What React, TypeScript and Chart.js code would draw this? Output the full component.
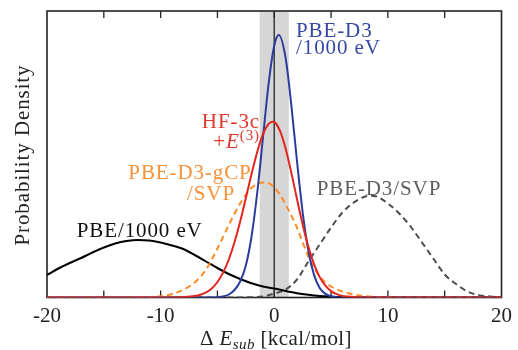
import React, { useEffect, useRef } from 'react';
import { Chart, registerables } from 'chart.js';

Chart.register(...registerables);

// ---- axis / reference data ----
const xMin = -20;
const xMax = 20;
const yMax = 0.2865;
const tickValues = [-20, -15, -10, -5, 0, 5, 10, 15, 20];
const labeledTicks = [-20, -10, 0, 10, 20];
const bandRange = [-1.28, 1.28];
const refLine = 0;

// ---- series (x in kcal/mol, y = density, arbitrary units) ----
const redX = [-20, -10, -9, -8, -7, -6.5, -6, -5.5, -5, -4.5, -4, -3.5, -3, -2.5, -2, -1.5, -1, -0.5, -0.15, 0, 0.5, 1, 1.5, 2, 2.5, 3, 3.5, 4, 4.5, 5, 5.5, 6, 6.5, 7, 8, 9, 20];
const redY = [0, 0, 0.0001, 0.0004, 0.0014, 0.0027, 0.0051, 0.0091, 0.0155, 0.0249, 0.038, 0.0552, 0.076, 0.0994, 0.1234, 0.1456, 0.1632, 0.1736, 0.1758, 0.1755, 0.1668, 0.149, 0.125, 0.0986, 0.073, 0.0509, 0.0333, 0.0204, 0.0118, 0.0064, 0.0033, 0.0016, 0.0009, 0.0005, 0.0001, 0, 0];

const blueX = [-20, -6, -5, -4.5, -4, -3.5, -3, -2.5, -2, -1.5, -1, -0.5, 0, 0.4, 1, 1.5, 2, 2.5, 3, 3.5, 4, 4.5, 5, 5.5, 6.5, 20];
const blueY = [0, 0, 0.0003, 0.001, 0.003, 0.0075, 0.016, 0.032, 0.061, 0.1045, 0.159, 0.2135, 0.252, 0.2625, 0.2395, 0.1927, 0.1366, 0.0852, 0.0468, 0.0226, 0.0096, 0.0036, 0.0012, 0.0003, 0, 0];

const orangeX = [-20, -14, -12, -11, -10, -9, -8, -7, -6, -5, -4, -3, -2, -1, -0.5, 0, 0.5, 1, 1.5, 2, 2.5, 3, 3.5, 4, 4.5, 5, 6, 7, 8, 9, 10, 12, 20];
const orangeY = [0, 0, 0.0002, 0.0005, 0.0012, 0.0035, 0.0078, 0.015, 0.028, 0.049, 0.0725, 0.094, 0.1095, 0.115, 0.1145, 0.11, 0.103, 0.093, 0.082, 0.07, 0.055, 0.041, 0.03, 0.021, 0.015, 0.011, 0.006, 0.003, 0.0013, 0.0005, 0.0002, 0, 0];

const blackX = [-20, -19, -18, -17, -16, -15, -14, -13, -12, -11, -10, -9, -8, -7, -6, -5, -4, -3, -2, -1, 0, 1, 2, 3, 4, 5, 6, 8, 10, 20];
const blackY = [0.0225, 0.029, 0.0345, 0.0395, 0.045, 0.05, 0.054, 0.0565, 0.0575, 0.057, 0.055, 0.052, 0.0485, 0.0425, 0.036, 0.0295, 0.0235, 0.0185, 0.0142, 0.011, 0.009, 0.0065, 0.0043, 0.0027, 0.0015, 0.0008, 0.0004, 0.0001, 0, 0];

const grayX = [-20, -4, -2, -1, 0, 1, 2, 3, 4, 5, 6, 7, 8, 8.5, 9, 10, 11, 12, 13, 14, 15, 16, 17, 18, 19, 20];
const grayY = [0, 0, 0.0003, 0.001, 0.004, 0.008, 0.018, 0.036, 0.053, 0.07, 0.085, 0.095, 0.101, 0.1017, 0.101, 0.094, 0.084, 0.071, 0.055, 0.039, 0.023, 0.0135, 0.006, 0.0023, 0.001, 0.0004];

const seriesNames = ['HF-3c +E(3)', 'PBE-D3/1000 eV', 'PBE-D3-gCP/SVP', 'PBE/1000 eV', 'PBE-D3/SVP'];

const FONT = "'Liberation Serif', 'Times New Roman', serif";

type Part = { t: string; size?: number; italic?: boolean; dy?: number };

function partsWidth(ctx: CanvasRenderingContext2D, parts: Part[]) {
  let w = 0;
  for (const p of parts) {
    ctx.font = `${p.italic ? 'italic ' : ''}${p.size || 21}px ${FONT}`;
    w += ctx.measureText(p.t).width;
  }
  return w;
}

function drawParts(ctx: CanvasRenderingContext2D, parts: Part[], x: number, y: number) {
  let cx = x;
  for (const p of parts) {
    ctx.font = `${p.italic ? 'italic ' : ''}${p.size || 21}px ${FONT}`;
    ctx.fillText(p.t, cx, y + (p.dy || 0));
    cx += ctx.measureText(p.t).width;
  }
}

const decorPlugin = {
  id: 'decor',
  beforeDatasetsDraw(chart: any) {
    const { ctx, chartArea: a, scales } = chart;
    const x = scales.x;
    ctx.save();
    const b0 = x.getPixelForValue(bandRange[0]);
    const b1 = x.getPixelForValue(bandRange[1]);
    ctx.fillStyle = '#d6d6d6';
    ctx.fillRect(b0, a.top, b1 - b0, a.bottom - a.top);
    const z = x.getPixelForValue(refLine);
    ctx.strokeStyle = '#3c3c3c';
    ctx.lineWidth = 1.5;
    ctx.beginPath();
    ctx.moveTo(z, a.top);
    ctx.lineTo(z, a.bottom);
    ctx.stroke();
    ctx.strokeStyle = '#222';
    ctx.lineWidth = 1.3;
    for (const t of tickValues) {
      if (t === xMin || t === xMax) continue;
      const p = x.getPixelForValue(t);
      ctx.beginPath();
      ctx.moveTo(p, a.top);
      ctx.lineTo(p, a.top + 7);
      ctx.moveTo(p, a.bottom);
      ctx.lineTo(p, a.bottom - 7);
      ctx.stroke();
    }
    ctx.lineWidth = 1.6;
    ctx.strokeRect(a.left, a.top, a.right - a.left, a.bottom - a.top);
    ctx.restore();
  },
  afterDraw(chart: any) {
    const { ctx } = chart;
    ctx.save();
    (ctx as any).letterSpacing = '0.9px';
    ctx.textBaseline = 'alphabetic';
    ctx.textAlign = 'left';

    // blue label
    ctx.fillStyle = '#3647a6';
    drawParts(ctx, [{ t: 'PBE-D3' }], 296, 36.5);
    drawParts(ctx, [{ t: '/1000 eV' }], 296, 54);

    // red label (right-aligned at 260)
    ctx.fillStyle = '#e2372c';
    const r1: Part[] = [{ t: 'HF-3c' }];
    drawParts(ctx, r1, 260 - partsWidth(ctx, r1), 128.3);
    const r2: Part[] = [{ t: '+' }, { t: 'E', italic: true }, { t: '(3)', size: 15, dy: -8 }];
    drawParts(ctx, r2, 260 - partsWidth(ctx, r2), 148.3);

    // orange label
    ctx.fillStyle = '#f7913a';
    drawParts(ctx, [{ t: 'PBE-D3-gCP' }], 128.3, 178.5);
    drawParts(ctx, [{ t: '/SVP' }], 187, 199.5);

    // gray label
    ctx.fillStyle = '#5e5e5e';
    drawParts(ctx, [{ t: 'PBE-D3/SVP' }], 316.7, 195);

    // black label
    ctx.fillStyle = '#111';
    drawParts(ctx, [{ t: 'PBE/1000 eV' }], 76.7, 236.7);

    // x title
    (ctx as any).letterSpacing = '0.4px';
    ctx.fillStyle = '#222';
    drawParts(ctx, [
      { t: 'Δ ' },
      { t: 'E', italic: true },
      { t: 'sub', italic: true, size: 15, dy: 4 },
      { t: ' [kcal/mol]' },
    ], 200, 345);

    // y title
    (ctx as any).letterSpacing = '0.9px';
    ctx.translate(29, 155);
    ctx.rotate(-Math.PI / 2);
    ctx.font = `21px ${FONT}`;
    ctx.textAlign = 'center';
    ctx.fillText('Probability Density', 0, 0);
    ctx.restore();
  },
};

function makeData(xs: number[], ys: number[]) {
  return xs.map((x, i) => ({ x, y: ys[i] }));
}

export default function App() {
  const ref = useRef<HTMLCanvasElement | null>(null);
  useEffect(() => {
    if (!ref.current) return;
    const common = { pointRadius: 0, borderWidth: 2, fill: false, cubicInterpolationMode: 'monotone' as const };
    const chart = new Chart(ref.current, {
      type: 'line',
      data: {
        datasets: [
          { label: seriesNames[0], data: makeData(redX, redY), borderColor: '#e2261d', ...common },
          { label: seriesNames[1], data: makeData(blueX, blueY), borderColor: '#2b3c9e', ...common },
          { label: seriesNames[2], data: makeData(orangeX, orangeY), borderColor: '#ff8a26', borderDash: [6, 4], ...common },
          { label: seriesNames[3], data: makeData(blackX, blackY), borderColor: '#000000', ...common },
          { label: seriesNames[4], data: makeData(grayX, grayY), borderColor: '#4d4d4d', borderDash: [6, 4], ...common },
        ],
      },
      options: {
        animation: false,
        responsive: false,
        devicePixelRatio: 1,
        layout: { padding: { left: 47, top: 11, right: 11, bottom: 0 } },
        plugins: { legend: { display: false }, tooltip: { enabled: false } },
        scales: {
          x: {
            type: 'linear',
            min: xMin,
            max: xMax,
            afterBuildTicks: (scale: any) => {
              scale.ticks = tickValues.map((v) => ({ value: v }));
            },
            afterFit: (scale: any) => {
              scale.height = 52.5;
            },
            grid: { display: false, drawTicks: false },
            border: { display: false },
            ticks: {
              autoSkip: false,
              maxRotation: 0,
              padding: 6,
              color: '#222',
              font: { family: FONT, size: 21 },
              callback: (v: any) => (labeledTicks.includes(Number(v)) ? String(v) : ''),
            },
          },
          y: {
            display: false,
            min: 0,
            max: yMax,
          },
        },
      },
      plugins: [decorPlugin],
    });
    return () => chart.destroy();
  }, []);
  return (
    <div style={{ position: 'absolute', left: 0, top: 0, width: 518, height: 350, background: '#fff' }}>
      <canvas ref={ref} width={518} height={350} />
    </div>
  );
}
